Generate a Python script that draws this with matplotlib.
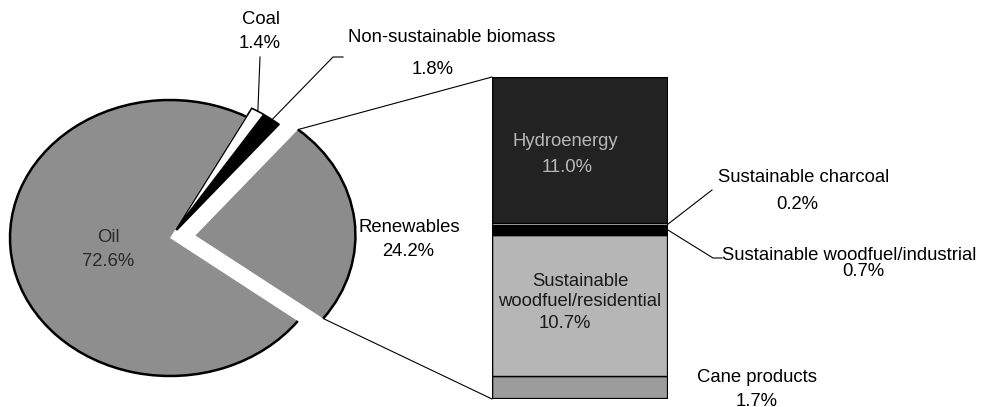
import numpy as np
import matplotlib
matplotlib.use('Agg')
import matplotlib.pyplot as plt
from matplotlib.patches import Arc, ConnectionPatch
from matplotlib.lines import Line2D

# pie: counterclockwise from the lower edge of the renewables wedge
pie_labels = ['Renewables', 'Non-sustainable biomass', 'Coal', 'Oil']
pie_values = [24.2, 1.8, 1.4, 72.6]

# breakdown of renewables, bottom to top
bar_labels = ['Cane products', 'Sustainable woodfuel/residential',
              'Sustainable woodfuel/industrial', 'Sustainable charcoal', 'Hydroenergy']
bar_values = [1.7, 10.7, 0.7, 0.2, 11.0]

W, H = 983, 407
plt.rcParams['font.family'] = ['Liberation Sans', 'DejaVu Sans']
FS = 13.3

fig = plt.figure(figsize=(W / 100, H / 100), dpi=100)
fig.patch.set_facecolor('white')


def px(x, y):
    # pixel position (from top-left) -> figure fraction
    return x / W, 1 - y / H


def put(x, y, s, ha='center', color='black'):
    fx, fy = px(x, y)
    fig.text(fx, fy, s, ha=ha, va='center', fontsize=FS, color=color)


# ---- pie ----
ax1 = fig.add_axes([0, 0, 1, 1])
cx, cy, sx, sy = 170, 238, 160, 138   # pie centre in pixels, pixels per unit
wedges, _ = ax1.pie(pie_values, explode=[0.16, 0.07, 0.07, 0],
                    colors=['#8c8c8c', 'black', 'white', '#8e8e8e'],
                    startangle=-37, counterclock=True,
                    wedgeprops=dict(linewidth=0))
ax1.set_aspect('auto')
ax1.set_xlim(-cx / sx, (W - cx) / sx)
ax1.set_ylim(-(H - cy) / sy, cy / sy)
ax1.axis('off')

wedges[2].set_edgecolor('black')
wedges[2].set_linewidth(1.2)
wedges[1].set_edgecolor('black')
wedges[1].set_linewidth(1.0)
for w in (wedges[0], wedges[3]):
    ax1.add_patch(Arc(w.center, 2 * w.r, 2 * w.r, theta1=w.theta1,
                      theta2=w.theta2, lw=1.8, color='black'))


def tip(w):
    a = np.deg2rad((w.theta1 + w.theta2) / 2)
    return w.center[0] + w.r * np.cos(a), w.center[1] + w.r * np.sin(a)


def corner(w, th):
    a = np.deg2rad(th)
    return w.center[0] + w.r * np.cos(a), w.center[1] + w.r * np.sin(a)


# ---- stacked bar ----
ax2 = fig.add_axes([492 / W, (H - 399) / H, 176 / W, 322 / H])
bar_colors = ['#9c9c9c', '#b6b6b6', 'black', '#bdbdbd', '#222222']
bottom = 0
for v, c in zip(bar_values, bar_colors):
    ax2.bar(0.5, v, width=1, bottom=bottom, color=c, edgecolor='black',
            linewidth=0.0 if v < 0.5 else 1.0)
    bottom += v
total = sum(bar_values)
ax2.bar(0.5, total, width=1, bottom=0, fill=False, edgecolor='black', linewidth=1.6)
ax2.set_xlim(0, 1)
ax2.set_ylim(0, total)
ax2.axis('off')

# lines from renewables wedge to the bar
ren = wedges[0]
for th, yb in ((ren.theta2, total), (ren.theta1, 0)):
    con = ConnectionPatch(xyA=corner(ren, th), coordsA=ax1.transData,
                          xyB=(0, yb), coordsB=ax2.transData,
                          color='black', lw=0.8)
    fig.add_artist(con)

fig.canvas.draw()


def to_px(ax, xy):
    dx, dy = ax.transData.transform(xy)
    return dx, H - dy


def leader(points):
    xs = [px(x, y)[0] for x, y in points]
    ys = [px(x, y)[1] for x, y in points]
    fig.add_artist(Line2D(xs, ys, color='black', lw=0.8, transform=fig.transFigure))


leader([(260, 57), to_px(ax1, tip(wedges[2]))])
leader([(343, 57), (333, 57), to_px(ax1, tip(wedges[1]))])
y_char = sum(bar_values[:3]) + bar_values[3] / 2
y_ind = sum(bar_values[:2]) + bar_values[2] / 2
leader([to_px(ax2, (1, y_char)), (712, 190)])
leader([to_px(ax2, (1, y_ind)), (713, 258), (722, 258)])

# ---- labels ----
put(261, 20, 'Coal')
put(260, 43, '1.4%')
put(348, 37, 'Non-sustainable biomass', ha='left')
put(433, 70, '1.8%')
put(108, 238, 'Oil', color='#2a2a2a')
put(108, 262, '72.6%', color='#2a2a2a')
put(409, 228, 'Renewables')
put(408, 252, '24.2%')
put(565, 142, 'Hydroenergy', color='#b8b8b8')
put(567, 167, '11.0%', color='#b8b8b8')
put(580, 282, 'Sustainable', color='#1a1a1a')
put(580, 302, 'woodfuel/residential', color='#1a1a1a')
put(565, 323, '10.7%', color='#1a1a1a')
put(718, 178, 'Sustainable charcoal', ha='left')
put(797, 204, '0.2%')
put(722, 256, 'Sustainable woodfuel/industrial', ha='left')
put(863, 272, '0.7%')
put(697, 377, 'Cane products', ha='left')
put(757, 402, '1.7%')

fig.savefig('out.png', dpi=100)
